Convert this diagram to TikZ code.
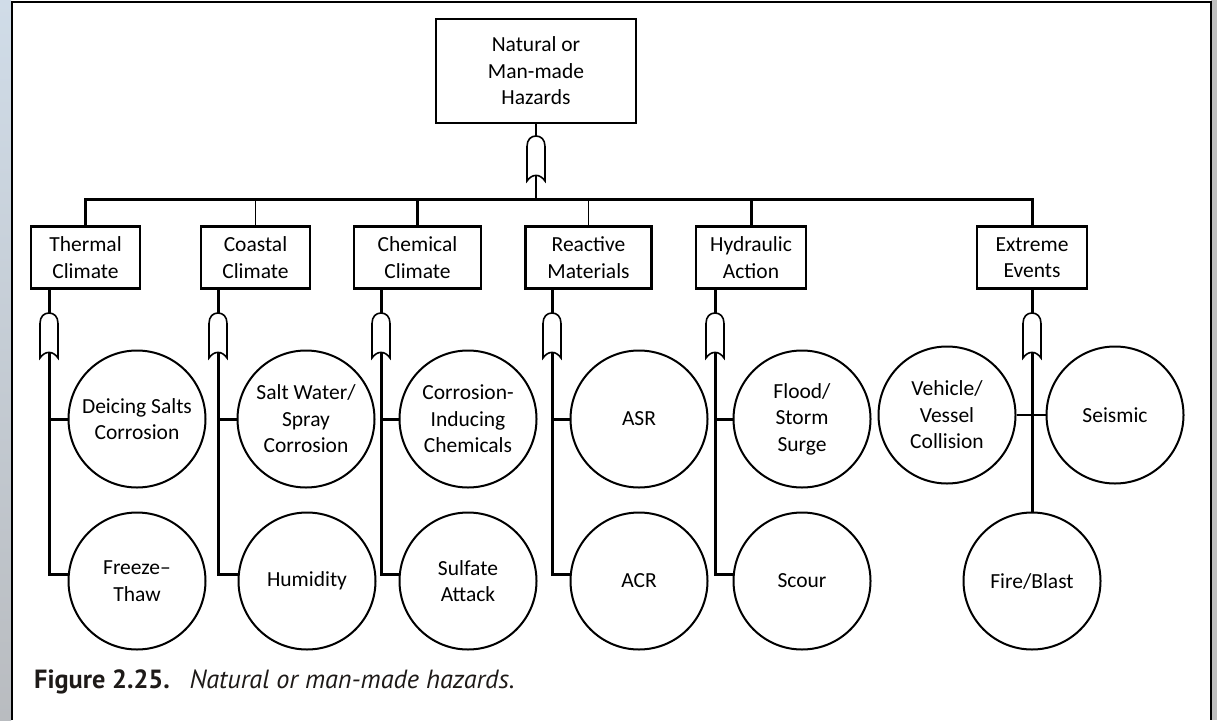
\documentclass[tikz,border=0pt]{standalone}
\usepackage{fontspec}
\setmainfont{Carlito}
\newfontfamily\capfont{PT Sans}
\definecolor{deskTop}{RGB}{208,220,232}
\definecolor{deskBottom}{RGB}{185,188,192}
\definecolor{deskRight}{RGB}{190,190,190}
\definecolor{captionInk}{RGB}{30,26,24}
\begin{document}
\begin{tikzpicture}[x=1pt,y=-1pt,
  lbl/.style={font=\fontsize{21.5}{26.5}\selectfont, text=black, align=center},
  hazbox/.style={lbl, draw, line width=2.2pt, rectangle, inner sep=0pt, minimum height=62pt},
  hazcirc/.style={lbl, draw, line width=2pt, circle, inner sep=0pt, minimum size=137pt},
  thinwire/.style={line width=1.8pt},
  thickwire/.style={line width=3pt},
  orgate/.pic={
    \draw[line width=1.6pt, fill=white] (-9,22.5) .. controls (-4,15) and (4,15) .. (9,22.5)
      -- (9,-12) .. controls (9,-19) and (5,-22.5) .. (0,-22.5)
      .. controls (-5,-22.5) and (-9,-19) .. (-9,-12) -- cycle;
    \coordinate (-in) at (0,16.9);
    \coordinate (-out) at (0,-22.5);
  }]
% page and surrounding desktop
\useasboundingbox (0,0) rectangle (1217,720);
\shade[top color=deskTop, bottom color=deskBottom] (0,0) rectangle (11,720);
\fill[deskRight] (1211,0) rectangle (1217,720);
\fill[white] (11,1) rectangle (1211,720);
\draw[line width=2pt] (11.5,720) -- (11.5,1.5) -- (1210.5,1.5) -- (1210.5,720);

% root
\node[hazbox, minimum width=200pt, minimum height=104pt] (root) at (536,71) {Natural or\\Man-made\\Hazards};
\pic (g0) at (536,158.5) {orgate};
\coordinate (bus) at (536,199.5);

% hazard categories
\node[hazbox, minimum width=109pt] (thermal) at (85.5,257.5) {Thermal\\Climate};
\node[hazbox, minimum width=109pt] (coastal) at (255.5,257.5) {Coastal\\Climate};
\node[hazbox, minimum width=127pt] (chemical) at (417.5,257.5) {Chemical\\Climate};
\node[hazbox, minimum width=126pt] (reactive) at (588.5,257.5) {Reactive\\Materials};
\node[hazbox, minimum width=110pt] (hydraulic) at (751,257.5) {Hydraulic\\Action};
\node[hazbox, minimum width=110pt] (extreme) at (1032,257.5) {Extreme\\Events};

% gates under the categories
\pic (g1) at (49,335.5) {orgate};
\pic (g2) at (218,335.5) {orgate};
\pic (g3) at (381,335.5) {orgate};
\pic (g4) at (552,335.5) {orgate};
\pic (g5) at (715,335.5) {orgate};
\pic (g6) at (1032,335.5) {orgate};

% basic events
\node[hazcirc] (ds) at (137,419) {Deicing Salts\\Corrosion};
\node[hazcirc] (ft) at (137,581) {Freeze–\\Thaw};
\node[hazcirc] (sw) at (306,419) {Salt Water/\\Spray\\Corrosion};
\node[hazcirc] (hum) at (307,581) {Humidity};
\node[hazcirc] (ci) at (468,419) {Corrosion-\\Inducing\\Chemicals};
\node[hazcirc] (sa) at (468,581) {Sulfate\\Attack};
\node[hazcirc] (asr) at (639,419) {ASR};
\node[hazcirc] (acr) at (639,581) {ACR};
\node[hazcirc] (fss) at (802,419) {Flood/\\Storm\\Surge};
\node[hazcirc] (sc) at (802,581) {Scour};
\node[hazcirc] (vv) at (947,415) {Vehicle/\\Vessel\\Collision};
\node[hazcirc] (se) at (1115,415) {Seismic};
\node[hazcirc] (fb) at (1032,581) {Fire/Blast};

% root level wiring
\draw[thinwire] (root.south) -- (g0-out);
\draw[thinwire] (g0-in) -- (bus);
\draw[thickwire] (thermal.north) |- (bus);
\draw[thinwire] (coastal.north) |- (bus);
\draw[thickwire] (chemical.north) |- (bus);
\draw[thinwire] (reactive.north) |- (bus);
\draw[thickwire] (hydraulic.north) |- (bus);
\draw[thickwire] (extreme.north) |- (bus);

% category wiring
\foreach \g/\c/\up/\lo in {g1/thermal/ds/ft, g2/coastal/sw/hum, g3/chemical/ci/sa, g4/reactive/asr/acr, g5/hydraulic/fss/sc}{
  \draw[thickwire] (\g-out |- \c.south) -- (\g-out);
  \draw[thickwire] (\g-in) |- (\lo.175);
  \draw[thickwire] (\g-in |- \up.west) -- (\up.west);
}
\draw[thickwire] (g6-out |- extreme.south) -- (g6-out);
\draw[thickwire] (g6-in) -- (fb.north);
\draw[thinwire] (vv.east) -- (se.west);

% caption
\node[anchor=base west, inner sep=0pt, font=\capfont\fontsize{26.3}{31}\selectfont, text=captionInk] (caption) at (34,688)
  {\textbf{Figure 2.25.}\hspace{0.75em}\textit{Natural or man-made hazards.}};
\end{tikzpicture}
\end{document}
